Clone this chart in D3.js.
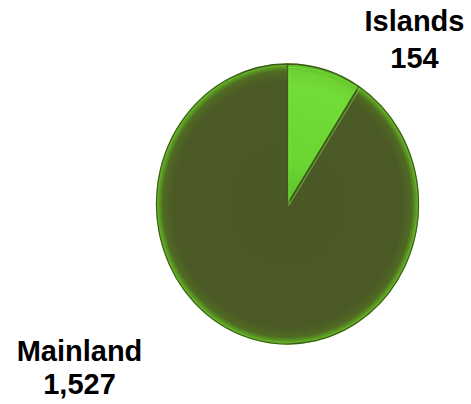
<!DOCTYPE html>
<html>
<head>
<meta charset="utf-8">
<script src="https://cdn.jsdelivr.net/npm/d3@7/dist/d3.min.js"></script>
<style>
  html, body { margin: 0; padding: 0; background: #ffffff; }
  svg { display: block; }
</style>
</head>
<body>
<script>
const categories = ["Islands", "Mainland"];
const values = [154, 1527];
const labelValues = ["154", "1,527"];

const W = 471, H = 404;
const cx = 287.5, cy = 204, rx = 131, ry = 140;

const svg = d3.select("body").append("svg").attr("width", W).attr("height", H);
const defs = svg.append("defs");

const gDark = defs.append("radialGradient").attr("id", "gDark")
  .attr("gradientUnits", "userSpaceOnUse").attr("cx", 0).attr("cy", 0).attr("r", rx);
[[0, "#4a5826"], [0.88, "#4b5a25"], [0.95, "#4f6a23"], [0.98, "#5a9a22"], [1, "#6cc42c"]]
  .forEach(([o, c]) => gDark.append("stop").attr("offset", o).attr("stop-color", c));

const gLight = defs.append("radialGradient").attr("id", "gLight")
  .attr("gradientUnits", "userSpaceOnUse").attr("cx", 0).attr("cy", 0).attr("r", rx);
[[0, "#5cbe2a"], [0.3, "#6ad632"], [0.85, "#72dc38"], [0.95, "#6ed234"], [1, "#5cb828"]]
  .forEach(([o, c]) => gLight.append("stop").attr("offset", o).attr("stop-color", c));

const fills = ["url(#gLight)", "url(#gDark)"];

const pie = d3.pie().sort(null).value(d => d)(values);
const arc = d3.arc().innerRadius(0).outerRadius(rx);

const g = svg.append("g")
  .attr("transform", `translate(${cx},${cy}) scale(1,${ry / rx})`);

g.append("ellipse").attr("cx", 0).attr("cy", 0).attr("rx", rx + 0.7).attr("ry", rx + 0.7)
  .attr("fill", "#6ac42c").attr("opacity", 0.85);

g.selectAll("path.slice").data(pie).join("path")
  .attr("class", "slice")
  .attr("d", arc)
  .attr("fill", (d, i) => fills[i])
  .attr("stroke", "#3f5a1c")
  .attr("stroke-width", 1.2)
  .attr("stroke-linejoin", "round");

const arcInner = d3.arc().innerRadius(0).outerRadius(rx - 2);
g.append("path").datum(pie[0])
  .attr("d", arcInner)
  .attr("fill", "none")
  .attr("stroke", "#7ee83c")
  .attr("stroke-width", 1)
  .attr("opacity", 0.6)
  .attr("transform", "translate(1.5,1)");

const labels = [
  { x: 414.5, y1: 31, y2: 68 },
  { x: 79.5, y1: 361, y2: 394 }
];
const tg = svg.append("g")
  .attr("font-family", "'Liberation Sans', Arial, sans-serif")
  .attr("font-weight", "bold")
  .attr("font-size", 29)
  .attr("fill", "#000")
  .attr("text-anchor", "middle");
categories.forEach((c, i) => {
  tg.append("text").attr("x", labels[i].x).attr("y", labels[i].y1).text(c);
  tg.append("text").attr("x", labels[i].x).attr("y", labels[i].y2).text(labelValues[i]);
});
</script>
</body>
</html>
